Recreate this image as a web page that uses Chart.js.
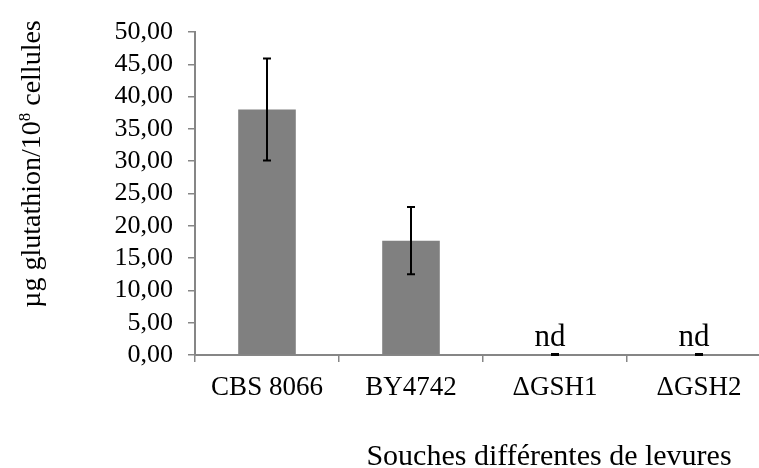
<!DOCTYPE html>
<html>
<head>
<meta charset="utf-8">
<script src="https://cdn.jsdelivr.net/npm/chart.js@4"></script>
<style>
    body { margin: 0; background: #fff; }
    #wrap { width: 759px; height: 468px; overflow: hidden; }
</style>
</head>
<body>
<div id="wrap"><canvas id="chart" width="772" height="468"></canvas></div>
<script>
// données
const categories = ['CBS 8066', 'BY4742', '\u0394GSH1', '\u0394GSH2'];
const values = [38.0, 17.7, 0, 0];
const errors = [7.9, 5.2, 0.15, 0.15];
const notes = ['', '', 'nd', 'nd'];
const yMin = 0, yMax = 50, yStep = 5;

const FONT = "'Liberation Serif', 'Times New Roman', serif";
const AXIS = '#868686';
Chart.defaults.font.family = FONT;

// barres d'erreur + "nd" + titres d'axes
const extras = {
    id: 'extras',
    afterDatasetsDraw(chart) {
        const ctx = chart.ctx;
        const y = chart.scales.y;
        const bars = chart.getDatasetMeta(0).data;
        ctx.save();
        ctx.strokeStyle = '#000';
        ctx.lineWidth = 2;
        bars.forEach((bar, i) => {
            const top = y.getPixelForValue(values[i] + errors[i]);
            const bot = y.getPixelForValue(Math.max(0, values[i] - errors[i]));
            ctx.beginPath();
            ctx.moveTo(bar.x, top); ctx.lineTo(bar.x, bot);
            ctx.moveTo(bar.x - 4, top); ctx.lineTo(bar.x + 4, top);
            ctx.moveTo(bar.x - 4, bot); ctx.lineTo(bar.x + 4, bot);
            ctx.stroke();
            if (notes[i]) {
                ctx.fillStyle = '#000';
                ctx.font = '31px ' + FONT;
                ctx.textAlign = 'center';
                ctx.textBaseline = 'alphabetic';
                ctx.fillText(notes[i], bar.x - 5, y.getPixelForValue(values[i]) - 9);
            }
        });

        // titre axe X
        ctx.fillStyle = '#000';
        ctx.font = '30px ' + FONT;
        ctx.textAlign = 'center';
        ctx.textBaseline = 'alphabetic';
        ctx.fillText('Souches diff\u00e9rentes de levures', 549, 465);

        // titre axe Y avec exposant
        const parts = ['\u00b5g glutathion/10', '8', ' cellules'];
        const big = '28px ' + FONT, small = '17px ' + FONT;
        ctx.font = big;
        const w0 = ctx.measureText(parts[0]).width;
        const w2 = ctx.measureText(parts[2]).width;
        ctx.font = small;
        const w1 = ctx.measureText(parts[1]).width;
        const total = w0 + w1 + w2;
        ctx.translate(40, 164);
        ctx.rotate(-Math.PI / 2);
        ctx.textAlign = 'left';
        let x = -total / 2;
        ctx.font = big;
        ctx.fillText(parts[0], x, 0);
        x += w0;
        ctx.font = small;
        ctx.fillText(parts[1], x, -10);
        x += w1;
        ctx.font = big;
        ctx.fillText(parts[2], x, 0);
        ctx.restore();
    }
};

new Chart(document.getElementById('chart').getContext('2d'), {
    type: 'bar',
    data: {
        labels: categories,
        datasets: [{
            data: values,
            backgroundColor: '#808080',
            borderWidth: 0,
            barPercentage: 0.4,
            categoryPercentage: 1
        }]
    },
    options: {
        responsive: false,
        animation: false,
        devicePixelRatio: 1,
        layout: { padding: { left: 0, top: 32, right: 1, bottom: 0 } },
        plugins: { legend: { display: false }, tooltip: { enabled: false } },
        scales: {
            x: {
                grid: { offset: true, drawOnChartArea: false, tickLength: 7, color: AXIS, lineWidth: 1.5 },
                border: { color: AXIS, width: 2 },
                ticks: { color: '#000', font: { size: 27 }, padding: 10 },
                afterFit: s => { s.height = 113; }
            },
            y: {
                min: yMin,
                max: yMax,
                grid: { drawOnChartArea: false, tickLength: 7, color: AXIS, lineWidth: 1.5 },
                border: { color: AXIS, width: 2 },
                ticks: {
                    stepSize: yStep,
                    autoSkip: false,
                    color: '#000',
                    font: { size: 26, lineHeight: 1 },
                    padding: 15,
                    callback: v => v.toFixed(2).replace('.', ',')
                },
                afterFit: s => { s.width = 195; }
            }
        }
    },
    plugins: [extras]
});
</script>
</body>
</html>
